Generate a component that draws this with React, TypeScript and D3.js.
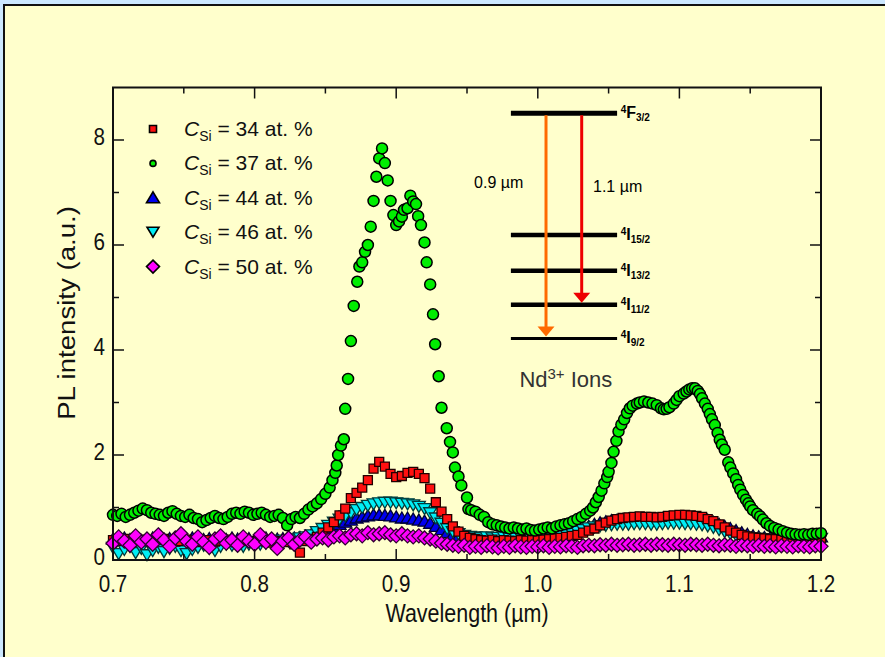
import React, { useEffect, useRef } from "react";
import * as d3 from "d3";

const W = 885;
const H = 657;

// shared wavelength grid (µm) for the four weaker samples
const gridWl = d3.range(126).map((i) => +(0.7 + i * 0.004).toFixed(3));

// PL intensity (a.u.), one value per grid point
const pl34 = [
  0.38, 0.36, 0.4, 0.35, 0.37, 0.39, 0.36, 0.34, 0.38, 0.4,
  0.37, 0.35, 0.36, 0.39, 0.37, 0.34, 0.36, 0.38, 0.35, 0.37,
  0.39, 0.36, 0.35, 0.38, 0.36, 0.34, 0.37, 0.35, 0.33, 0.36,
  0.35, 0.34, 0.3, 0.14, 0.36, 0.4, 0.44, 0.52, 0.62, 0.72,
  0.85, 0.98, 1.18, 1.28, 1.38, 1.52, 1.74, 1.87, 1.78, 1.64,
  1.58, 1.6, 1.66, 1.68, 1.64, 1.56, 1.36, 1.1, 0.92, 0.78,
  0.64, 0.54, 0.46, 0.42, 0.4, 0.38, 0.37, 0.39, 0.36, 0.38,
  0.37, 0.36, 0.38, 0.37, 0.38, 0.38, 0.39, 0.4, 0.41, 0.42,
  0.44, 0.46, 0.48, 0.52, 0.56, 0.6, 0.66, 0.71, 0.75, 0.78,
  0.8, 0.81, 0.82, 0.83, 0.82, 0.82, 0.81, 0.82, 0.84, 0.85,
  0.86, 0.86, 0.85, 0.84, 0.82, 0.78, 0.74, 0.68, 0.62, 0.56,
  0.52, 0.48, 0.45, 0.43, 0.42, 0.41, 0.4, 0.4, 0.39, 0.4,
  0.39, 0.4, 0.41, 0.4, 0.41, 0.42,
];

const pl44 = [
  0.4, 0.38, 0.42, 0.39, 0.41, 0.37, 0.4, 0.42, 0.38, 0.4,
  0.41, 0.39, 0.37, 0.4, 0.42, 0.38, 0.39, 0.41, 0.4, 0.37,
  0.39, 0.42, 0.4, 0.38, 0.41, 0.39, 0.4, 0.42, 0.38, 0.4,
  0.41, 0.4, 0.42, 0.43, 0.45, 0.48, 0.52, 0.56, 0.6, 0.64,
  0.68, 0.72, 0.76, 0.8, 0.82, 0.84, 0.86, 0.86, 0.85, 0.84,
  0.82, 0.8, 0.8, 0.78, 0.76, 0.74, 0.7, 0.64, 0.58, 0.52,
  0.48, 0.45, 0.43, 0.42, 0.41, 0.4, 0.41, 0.4, 0.39, 0.4,
  0.41, 0.4, 0.39, 0.4, 0.41, 0.4, 0.41, 0.42, 0.44, 0.46,
  0.48, 0.52, 0.56, 0.6, 0.64, 0.68, 0.71, 0.73, 0.75, 0.76,
  0.77, 0.78, 0.78, 0.78, 0.78, 0.78, 0.78, 0.79, 0.8, 0.8,
  0.81, 0.8, 0.8, 0.79, 0.78, 0.76, 0.72, 0.68, 0.64, 0.6,
  0.56, 0.52, 0.49, 0.46, 0.44, 0.43, 0.42, 0.42, 0.41, 0.42,
  0.41, 0.42, 0.43, 0.42, 0.43, 0.44,
];

const pl46 = [
  0.24, 0.12, 0.2, 0.26, 0.14, 0.22, 0.1, 0.18, 0.24, 0.16,
  0.22, 0.26, 0.18, 0.12, 0.2, 0.24, 0.28, 0.22, 0.18, 0.26,
  0.3, 0.28, 0.32, 0.26, 0.3, 0.34, 0.3, 0.32, 0.36, 0.34,
  0.38, 0.36, 0.4, 0.42, 0.44, 0.48, 0.54, 0.6, 0.66, 0.72,
  0.78, 0.84, 0.9, 0.96, 1.0, 1.04, 1.07, 1.09, 1.1, 1.1,
  1.09, 1.08, 1.07, 1.05, 1.02, 0.98, 0.9, 0.8, 0.7, 0.6,
  0.54, 0.5, 0.47, 0.45, 0.44, 0.43, 0.44, 0.42, 0.43, 0.44,
  0.42, 0.43, 0.44, 0.43, 0.44, 0.44, 0.45, 0.46, 0.47, 0.48,
  0.5, 0.52, 0.55, 0.58, 0.61, 0.63, 0.65, 0.66, 0.67, 0.68,
  0.68, 0.68, 0.69, 0.69, 0.69, 0.68, 0.68, 0.69, 0.7, 0.7,
  0.7, 0.69, 0.69, 0.68, 0.67, 0.65, 0.62, 0.58, 0.54, 0.5,
  0.47, 0.45, 0.43, 0.42, 0.41, 0.4, 0.4, 0.39, 0.39, 0.4,
  0.39, 0.4, 0.4, 0.39, 0.4, 0.41,
];

const pl50 = [
  0.32, 0.44, 0.36, 0.28, 0.46, 0.34, 0.4, 0.3, 0.48, 0.38,
  0.26, 0.42, 0.5, 0.36, 0.3, 0.44, 0.34, 0.24, 0.4, 0.46,
  0.32, 0.38, 0.28, 0.44, 0.36, 0.3, 0.48, 0.34, 0.4, 0.22,
  0.36, 0.42, 0.3, 0.38, 0.44, 0.34, 0.4, 0.42, 0.38, 0.44,
  0.46, 0.42, 0.48, 0.5, 0.46, 0.52, 0.48, 0.5, 0.52, 0.48,
  0.46, 0.5, 0.46, 0.44, 0.46, 0.42, 0.4, 0.36, 0.32, 0.3,
  0.28, 0.26, 0.28, 0.24, 0.26, 0.24, 0.27, 0.25, 0.23, 0.26,
  0.24, 0.27, 0.25, 0.24, 0.26, 0.25, 0.27, 0.24, 0.26, 0.25,
  0.27, 0.26, 0.24, 0.27, 0.28, 0.27, 0.29, 0.28, 0.3, 0.28,
  0.29, 0.3, 0.28, 0.29, 0.3, 0.28, 0.3, 0.29, 0.28, 0.3,
  0.29, 0.28, 0.3, 0.29, 0.28, 0.3, 0.28, 0.27, 0.29, 0.28,
  0.26, 0.28, 0.27, 0.26, 0.28, 0.26, 0.27, 0.25, 0.27, 0.26,
  0.25, 0.27, 0.26, 0.25, 0.27, 0.26,
];

// C_Si = 37 at.%: [wavelength, intensity], read marker by marker
const pts37: [number, number][] = [
  [0.7, 0.86], [0.703, 0.84], [0.706, 0.88], [0.709, 0.82], [0.712, 0.86],
  [0.715, 0.9], [0.718, 0.94], [0.721, 0.98], [0.724, 0.95], [0.727, 0.9],
  [0.73, 0.88], [0.733, 0.86], [0.736, 0.84], [0.739, 0.9], [0.742, 0.93],
  [0.745, 0.88], [0.748, 0.84], [0.751, 0.82], [0.754, 0.86], [0.757, 0.8],
  [0.76, 0.78], [0.763, 0.72], [0.766, 0.76], [0.769, 0.8], [0.772, 0.84],
  [0.775, 0.8], [0.778, 0.78], [0.781, 0.82], [0.784, 0.88], [0.787, 0.9],
  [0.79, 0.88], [0.793, 0.92], [0.796, 0.9], [0.799, 0.86], [0.802, 0.88],
  [0.805, 0.9], [0.808, 0.86], [0.811, 0.82], [0.814, 0.84], [0.817, 0.86],
  [0.82, 0.8], [0.823, 0.66], [0.826, 0.78], [0.829, 0.82], [0.832, 0.8],
  [0.835, 0.88], [0.838, 0.96], [0.841, 1.02], [0.844, 1.08], [0.847, 1.16],
  [0.85, 1.26], [0.853, 1.38], [0.855, 1.52], [0.857, 1.66], [0.858, 1.8],
  [0.859, 2.0], [0.861, 2.18], [0.863, 2.3], [0.864, 2.88], [0.866, 3.45],
  [0.868, 4.17], [0.87, 4.84], [0.8725, 5.3], [0.874, 5.59], [0.876, 5.67],
  [0.878, 5.87], [0.88, 6.0], [0.882, 6.35], [0.884, 6.84], [0.886, 7.3],
  [0.888, 7.65], [0.89, 7.84], [0.892, 7.56], [0.894, 7.23], [0.896, 6.84],
  [0.898, 6.57], [0.9, 6.38], [0.902, 6.45], [0.904, 6.54], [0.9055, 6.67],
  [0.908, 6.7], [0.91, 6.94], [0.912, 6.83], [0.914, 6.78], [0.9155, 6.55],
  [0.9175, 6.38], [0.92, 6.05], [0.9215, 5.67], [0.924, 5.25], [0.926, 4.68],
  [0.9275, 4.11], [0.93, 3.5], [0.932, 2.9], [0.9357, 2.51], [0.938, 2.25],
  [0.94, 2.05], [0.9415, 1.76], [0.944, 1.59], [0.946, 1.42], [0.95, 1.19],
  [0.951, 0.97], [0.953, 0.95], [0.956, 0.92], [0.959, 0.86], [0.962, 0.82],
  [0.965, 0.72], [0.968, 0.68], [0.971, 0.66], [0.974, 0.64], [0.977, 0.62],
  [0.98, 0.6], [0.983, 0.62], [0.986, 0.6], [0.989, 0.58], [0.992, 0.6],
  [0.995, 0.57], [0.998, 0.56], [1.001, 0.58], [1.004, 0.6], [1.007, 0.62],
  [1.01, 0.6], [1.013, 0.64], [1.016, 0.66], [1.019, 0.68], [1.022, 0.7],
  [1.025, 0.74], [1.028, 0.78], [1.031, 0.82], [1.034, 0.88], [1.037, 0.94],
  [1.039, 1.0], [1.041, 1.1], [1.043, 1.2], [1.045, 1.32], [1.047, 1.46],
  [1.049, 1.58], [1.05, 1.68], [1.052, 1.85], [1.0535, 2.06], [1.0555, 2.27],
  [1.057, 2.45], [1.059, 2.58], [1.061, 2.68], [1.063, 2.8], [1.065, 2.89],
  [1.067, 2.94], [1.07, 2.98], [1.072, 3.0], [1.075, 3.02], [1.078, 3.0],
  [1.081, 2.98], [1.084, 2.95], [1.087, 2.89], [1.089, 2.87], [1.091, 2.88],
  [1.093, 2.91], [1.096, 2.98], [1.098, 3.05], [1.1, 3.12], [1.103, 3.17],
  [1.105, 3.21], [1.107, 3.25], [1.109, 3.27], [1.111, 3.27], [1.113, 3.22],
  [1.1145, 3.16], [1.116, 3.08], [1.118, 2.98], [1.12, 2.88], [1.1215, 2.78],
  [1.123, 2.68], [1.125, 2.57], [1.127, 2.42], [1.1285, 2.29], [1.13, 2.2],
  [1.132, 2.1], [1.1345, 1.86], [1.136, 1.76], [1.138, 1.65], [1.14, 1.54],
  [1.1415, 1.43], [1.143, 1.34], [1.145, 1.24], [1.147, 1.15], [1.1487, 1.08],
  [1.15, 1.02], [1.152, 0.95], [1.155, 0.88], [1.157, 0.83], [1.159, 0.77],
  [1.1615, 0.7], [1.164, 0.65], [1.167, 0.61], [1.17, 0.58], [1.173, 0.55],
  [1.176, 0.52], [1.179, 0.5], [1.182, 0.49], [1.185, 0.48], [1.188, 0.49],
  [1.191, 0.48], [1.194, 0.5], [1.197, 0.5], [1.2, 0.51],
];

const xTicks = [0.7, 0.8, 0.9, 1.0, 1.1, 1.2];
const xMinor = [0.75, 0.85, 0.95, 1.05, 1.15];
const yTicks = [0, 2, 4, 6, 8];
const yMinor = [1, 3, 5, 7];
const legendLabels = ["34", "37", "44", "46", "50"];

// Nd3+ level scheme, placed in data units of the plot
const levelNames = [["F", "3/2"], ["I", "15/2"], ["I", "13/2"], ["I", "11/2"], ["I", "9/2"]];
const levelPos = [8.51, 6.19, 5.51, 4.86, 4.22];

const App = () => {
  const svgRef = useRef<SVGSVGElement>(null);

  useEffect(() => {
    const svg = d3.select(svgRef.current);
    svg.selectAll("*").remove();

    const font = "'Liberation Sans', Arial, sans-serif";
    const x = d3.scaleLinear().domain([0.7, 1.2]).range([113, 821]);
    const y = d3.scaleLinear().domain([0, 9]).range([560, 87.5]);

    // page background + panel
    svg.append("rect").attr("width", W).attr("height", H).attr("fill", "#cce8ff");
    svg
      .append("rect")
      .attr("x", 4)
      .attr("y", 5)
      .attr("width", W + 20)
      .attr("height", H + 20)
      .attr("fill", "#ffffcc")
      .attr("stroke", "#111")
      .attr("stroke-width", 2);

    // marker shapes
    const tri = "M0,-6L6.5,5L-6.5,5Z";
    const triDown = "M0,6L6.5,-5L-6.5,-5Z";
    const diamond = "M0,-7L7,0L0,7L-7,0Z";
    const square = "M-4.5,-4.5H4.5V4.5H-4.5Z";

    const drawSeries = (vals, shape, fill, stroke) => {
      svg
        .append("g")
        .selectAll("path")
        .data(gridWl.map((w, i) => [w, vals[i]]))
        .join("path")
        .attr("d", shape)
        .attr("transform", (d) => `translate(${x(d[0])},${y(d[1])})`)
        .attr("fill", fill)
        .attr("stroke", stroke)
        .attr("stroke-width", 1.3);
    };

    drawSeries(pl44, tri, "#0000ee", "#000033");
    drawSeries(pl46, triDown, "#00eef5", "#003a3a");
    drawSeries(pl34, square, "#ff1010", "#200000");
    drawSeries(pl50, diamond, "#ff00ff", "#300030");

    svg
      .append("g")
      .selectAll("circle")
      .data(pts37)
      .join("circle")
      .attr("cx", (d) => x(d[0]))
      .attr("cy", (d) => y(d[1]))
      .attr("r", 5.5)
      .attr("fill", "#00ee00")
      .attr("stroke", "#000")
      .attr("stroke-width", 1.5);

    // frame and inward ticks on all four sides
    const ax = svg.append("g").attr("stroke", "#111");
    ax.append("rect")
      .attr("x", x(0.7))
      .attr("y", y(9))
      .attr("width", x(1.2) - x(0.7))
      .attr("height", y(0) - y(9))
      .attr("fill", "none")
      .attr("stroke-width", 2);
    const xt = (vals, len) =>
      vals.forEach((v) => {
        ax.append("line").attr("x1", x(v)).attr("x2", x(v)).attr("y1", y(0)).attr("y2", y(0) - len).attr("stroke-width", 1.5);
        ax.append("line").attr("x1", x(v)).attr("x2", x(v)).attr("y1", y(9)).attr("y2", y(9) + len).attr("stroke-width", 1.5);
      });
    const yt = (vals, len) =>
      vals.forEach((v) => {
        ax.append("line").attr("y1", y(v)).attr("y2", y(v)).attr("x1", x(0.7)).attr("x2", x(0.7) + len).attr("stroke-width", 1.5);
        ax.append("line").attr("y1", y(v)).attr("y2", y(v)).attr("x1", x(1.2)).attr("x2", x(1.2) - len).attr("stroke-width", 1.5);
      });
    xt(xTicks.slice(1, -1), 11);
    xt(xMinor, 6);
    yt(yTicks.slice(1), 11);
    yt(yMinor, 6);

    // tick labels
    xTicks.forEach((t) => {
      svg
        .append("text")
        .attr("transform", `translate(${x(t)},592) scale(0.86,1)`)
        .attr("text-anchor", "middle")
        .attr("font-family", font)
        .attr("font-size", 24)
        .attr("fill", "#111")
        .text(d3.format(".1f")(t));
    });
    yTicks.forEach((t) => {
      svg
        .append("text")
        .attr("transform", `translate(105,${y(t) + 5}) scale(0.86,1)`)
        .attr("text-anchor", "end")
        .attr("font-family", font)
        .attr("font-size", 24)
        .attr("fill", "#111")
        .text(t);
    });

    // axis titles
    svg
      .append("text")
      .attr("transform", `translate(467,622) scale(0.86,1)`)
      .attr("text-anchor", "middle")
      .attr("font-family", font)
      .attr("font-size", 25)
      .attr("fill", "#111")
      .text("Wavelength (\u00b5m)");
    svg
      .append("text")
      .attr("transform", `translate(75,313) scale(1,1.15) rotate(-90)`)
      .attr("text-anchor", "middle")
      .attr("font-family", font)
      .attr("font-size", 24)
      .attr("fill", "#111")
      .text("PL intensity (a.u.)");

    // legend
    const legendMarks = [
      (g) => g.append("path").attr("d", "M-3.5,-3.5H3.5V3.5H-3.5Z").attr("fill", "#ff1010"),
      (g) => g.append("circle").attr("r", 3).attr("fill", "#00ee00"),
      (g) => g.append("path").attr("d", "M0,-6L6.5,5L-6.5,5Z").attr("fill", "#0000ee"),
      (g) => g.append("path").attr("d", "M0,5L6,-5L-6,-5Z").attr("fill", "#00eef5"),
      (g) => g.append("path").attr("d", "M0,-6.5L6.5,0L0,6.5L-6.5,0Z").attr("fill", "#ff00ff"),
    ];
    legendLabels.forEach((lab, k) => {
      const cy = 129 + k * 34.4;
      const g = svg.append("g").attr("transform", `translate(153,${cy})`);
      legendMarks[k](g).attr("stroke", "#000").attr("stroke-width", 1.6);
      const t = svg
        .append("text")
        .attr("x", 184)
        .attr("y", cy + 7)
        .attr("font-family", font)
        .attr("font-size", 21)
        .attr("fill", "#111");
      t.append("tspan").attr("font-style", "italic").text("C");
      t.append("tspan").attr("font-size", 14).attr("dy", 5).text("Si");
      t.append("tspan").attr("dy", -5).text(` = ${lab} at. %`);
    });

    // Nd3+ energy levels
    const lv = svg.append("g");
    levelPos.forEach((e, k) => {
      lv.append("line")
        .attr("x1", x(0.981))
        .attr("x2", x(1.056))
        .attr("y1", y(e))
        .attr("y2", y(e))
        .attr("stroke", "#000")
        .attr("stroke-width", k === 0 ? 5 : k === 4 ? 3 : 4.5);
      const t = lv
        .append("text")
        .attr("x", x(1.0585))
        .attr("y", y(e) + 5)
        .attr("font-family", font)
        .attr("font-weight", "bold")
        .attr("fill", "#000");
      t.append("tspan").attr("font-size", 10).attr("dy", -5).text("4");
      t.append("tspan").attr("font-size", 16).attr("dy", 5).text(levelNames[k][0]);
      t.append("tspan").attr("font-size", 10).attr("dy", 3).text(levelNames[k][1]);
    });

    const arrow = (xw, to, color) => {
      const x0 = x(xw);
      const yTip = y(levelPos[to]) - 2;
      lv.append("line")
        .attr("x1", x0)
        .attr("x2", x0)
        .attr("y1", y(levelPos[0]) + 2)
        .attr("y2", yTip - 8)
        .attr("stroke", color)
        .attr("stroke-width", 3);
      lv.append("path")
        .attr("d", `M${x0 - 8.5},${yTip - 10}L${x0 + 8.5},${yTip - 10}L${x0},${yTip}Z`)
        .attr("fill", color);
    };
    arrow(1.0058, 4, "#ff6a00");
    arrow(1.031, 3, "#ee0000");

    lv.append("text")
      .attr("x", x(0.955))
      .attr("y", y(7.09))
      .attr("font-family", font)
      .attr("font-size", 16)
      .attr("fill", "#000")
      .text("0.9 \u00b5m");
    lv.append("text")
      .attr("x", x(1.039))
      .attr("y", y(7.01))
      .attr("font-family", font)
      .attr("font-size", 16)
      .attr("fill", "#000")
      .text("1.1 \u00b5m");
    const nd = lv
      .append("text")
      .attr("x", x(0.987))
      .attr("y", y(3.3))
      .attr("font-family", font)
      .attr("font-size", 22)
      .attr("fill", "#333");
    nd.append("tspan").text("Nd");
    nd.append("tspan").attr("font-size", 15).attr("dy", -8).text("3+");
    nd.append("tspan").attr("dy", 8).text(" Ions");
  }, []);

  return (
    <svg
      ref={svgRef}
      width={W}
      height={H}
      style={{ position: "absolute", left: 0, top: 0 }}
    ></svg>
  );
};

export default App;
